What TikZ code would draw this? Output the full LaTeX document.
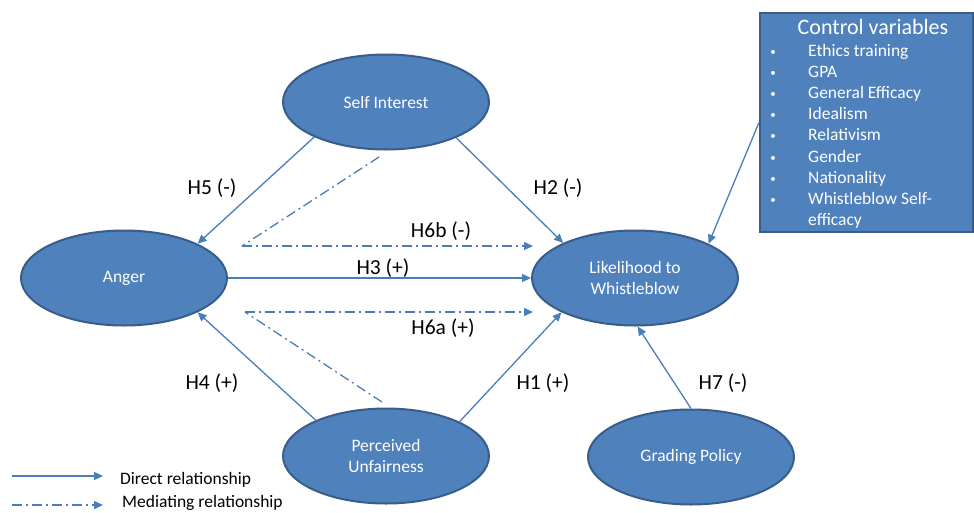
\documentclass[tikz,border=0pt]{standalone}
\usepackage{fontspec}
\setmainfont{Carlito}
\usetikzlibrary{arrows.meta,shapes.geometric}
\definecolor{fillblue}{HTML}{4F81BD}
\definecolor{edgeblue}{HTML}{385D8A}
\definecolor{linkblue}{HTML}{4A7EBB}
\begin{document}
\begin{tikzpicture}[x=1pt,y=-1pt,
  construct/.style={ellipse,draw=edgeblue,line width=2pt,fill=fillblue,
    minimum width=206pt,minimum height=95pt,inner sep=0pt,text=white,
    font=\fontsize{17.5}{21}\selectfont,align=center},
  tipstyle/.style={-{Triangle[length=9pt,width=8pt]}},
  direct/.style={draw=linkblue,line width=1.3pt,tipstyle},
  mediate/.style={draw=linkblue,line width=1.3pt,
    dash pattern=on 10pt off 4pt on 2pt off 4pt},
  hlabel/.style={font=\fontsize{21.5}{24}\selectfont,text=black},
  boxtext/.style={text=white,font=\fontsize{17.5}{21}\selectfont,inner sep=0pt},
  legtext/.style={text=black,font=\fontsize{17.5}{21}\selectfont,inner sep=0pt,anchor=base west},
]
\useasboundingbox (0,0) rectangle (974,512);

% constructs
\node[construct] (SI) at (386,102) {Self Interest};
\node[construct] (AN) at (124,278) {Anger};
\node[construct] (LW) at (635,278) {Likelihood to\\Whistleblow};
\node[construct] (PU) at (386,456) {Perceived\\Unfairness};
\node[construct] (GP) at (691,457) {Grading Policy};

% control variables box
\node[draw=edgeblue,line width=2pt,fill=fillblue,minimum width=213pt,
  minimum height=219pt,inner sep=0pt,anchor=north west] (CV) at (759,12) {};
\node[text=white,font=\fontsize{22}{26}\selectfont,inner sep=0pt,anchor=base]
  (CVt) at (873,34) {Control variables};
\foreach \i/\y/\t in {1/50/Ethics training,2/71/GPA,3/92/General Efficacy,
  4/113/Idealism,5/134/Relativism,6/156/Gender,7/177/Nationality,
  8/198/Whistleblow Self-}{
  \node[text=white,font=\fontsize{11}{13}\selectfont,inner sep=0pt] (bul\i) at (773,\y+3) {•};
  \node[boxtext,anchor=base west] (item\i) at (808,\y+6) {\t};
}
\node[boxtext,anchor=base west] (item9) at (808,225) {efficacy};

% direct relationships
\draw[direct] (SI.206.9) -- (AN.25.3);
\draw[direct] (SI.333.4) -- (LW.154.4);
\draw[direct] (AN.east) -- (LW.west);
\draw[direct] (PU.153.7) -- (AN.335.3);
\draw[direct] (PU.25.9) -- (LW.205.6);
\draw[direct] (GP.north) -- (LW.273.5);
\draw[direct] (CV.west) -- (LW.25.9);

% mediating relationships
\coordinate (m1) at (379,157);
\coordinate (m2) at (242,246);
\coordinate (m3) at (533,246);
\coordinate (m4) at (382,402);
\coordinate (m5) at (245,312);
\coordinate (m6) at (533,312);
\draw[mediate] (m1) -- (m2);
\draw[mediate,tipstyle] (m2) -- (m3);
\draw[mediate] (m4) -- (m5);
\draw[mediate,tipstyle] (m5) -- (m6);

% hypothesis labels
\node[hlabel] (h5) at (212,188) {H5 (-)};
\node[hlabel] (h2) at (558,188) {H2 (-)};
\node[hlabel] (h6b) at (441,231) {H6b (-)};
\node[hlabel] (h3) at (383,268) {H3 (+)};
\node[hlabel] (h6a) at (443,328) {H6a (+)};
\node[hlabel] (h4) at (212,383) {H4 (+)};
\node[hlabel] (h1) at (543,383) {H1 (+)};
\node[hlabel] (h7) at (723,383) {H7 (-)};

% legend
\coordinate (l1a) at (12,476);
\coordinate (l1b) at (103,476);
\coordinate (l2a) at (12,505);
\coordinate (l2b) at (103,505);
\draw[direct] (l1a) -- (l1b);
\draw[mediate,tipstyle] (l2a) -- (l2b);
\node[legtext] (l1t) at (120,484) {Direct relationship};
\node[legtext] (l2t) at (122,507.5) {Mediating relationship};
\end{tikzpicture}
\end{document}
